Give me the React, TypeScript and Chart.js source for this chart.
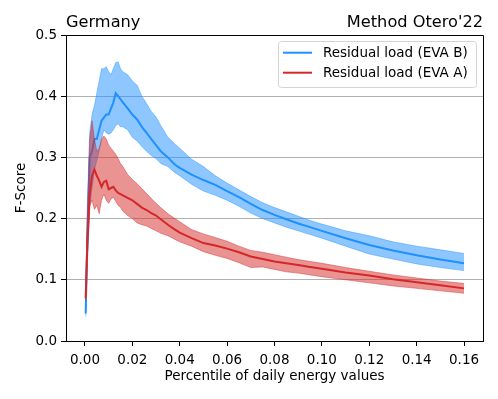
import React, { useEffect, useRef } from "react";
import { Chart, registerables } from "chart.js";

Chart.register(...registerables);

const xValues = [0.0003, 0.001, 0.002, 0.003, 0.004, 0.005, 0.006, 0.007, 0.008, 0.009, 0.010, 0.011, 0.012, 0.013, 0.014, 0.015, 0.016, 0.018, 0.020, 0.022, 0.024, 0.026, 0.028, 0.030, 0.032, 0.035, 0.038, 0.040, 0.045, 0.050, 0.055, 0.060, 0.065, 0.070, 0.075, 0.080, 0.085, 0.090, 0.095, 0.100, 0.110, 0.120, 0.130, 0.140, 0.150, 0.160];

const blueMean = [0.045, 0.17, 0.30, 0.31, 0.33, 0.33, 0.345, 0.36, 0.365, 0.37, 0.37, 0.38, 0.39, 0.405, 0.40, 0.395, 0.39, 0.38, 0.37, 0.362, 0.35, 0.34, 0.33, 0.32, 0.31, 0.30, 0.288, 0.283, 0.272, 0.263, 0.255, 0.245, 0.235, 0.224, 0.214, 0.206, 0.199, 0.192, 0.186, 0.18, 0.168, 0.157, 0.148, 0.140, 0.133, 0.127];
const blueUpper = [0.05, 0.22, 0.34, 0.37, 0.385, 0.405, 0.425, 0.445, 0.445, 0.448, 0.44, 0.435, 0.445, 0.455, 0.456, 0.445, 0.44, 0.435, 0.425, 0.418, 0.40, 0.388, 0.375, 0.366, 0.352, 0.333, 0.322, 0.315, 0.297, 0.285, 0.27, 0.258, 0.247, 0.236, 0.226, 0.218, 0.211, 0.204, 0.197, 0.191, 0.18, 0.172, 0.162, 0.155, 0.149, 0.143];
const blueLower = [0.04, 0.12, 0.22, 0.25, 0.28, 0.295, 0.31, 0.33, 0.345, 0.34, 0.338, 0.34, 0.345, 0.352, 0.355, 0.35, 0.35, 0.345, 0.333, 0.327, 0.318, 0.31, 0.303, 0.298, 0.29, 0.285, 0.275, 0.27, 0.256, 0.245, 0.238, 0.23, 0.22, 0.209, 0.2, 0.193, 0.186, 0.18, 0.174, 0.168, 0.155, 0.142, 0.134, 0.126, 0.12, 0.115];

const redMean = [0.07, 0.16, 0.24, 0.27, 0.28, 0.27, 0.262, 0.252, 0.26, 0.262, 0.248, 0.25, 0.252, 0.246, 0.242, 0.24, 0.238, 0.234, 0.23, 0.224, 0.218, 0.214, 0.209, 0.205, 0.199, 0.19, 0.182, 0.177, 0.168, 0.16, 0.156, 0.151, 0.145, 0.138, 0.134, 0.13, 0.127, 0.124, 0.121, 0.118, 0.112, 0.107, 0.101, 0.096, 0.091, 0.086];
const redUpper = [0.075, 0.2, 0.33, 0.36, 0.33, 0.31, 0.315, 0.33, 0.335, 0.33, 0.32, 0.315, 0.31, 0.305, 0.298, 0.29, 0.285, 0.272, 0.264, 0.257, 0.249, 0.241, 0.233, 0.225, 0.218, 0.208, 0.2, 0.195, 0.182, 0.175, 0.169, 0.163, 0.155, 0.148, 0.145, 0.141, 0.137, 0.133, 0.13, 0.127, 0.12, 0.114, 0.108, 0.103, 0.098, 0.094];
const redLower = [0.065, 0.13, 0.22, 0.23, 0.215, 0.222, 0.208, 0.23, 0.24, 0.23, 0.225, 0.232, 0.235, 0.228, 0.222, 0.218, 0.212, 0.205, 0.2, 0.193, 0.19, 0.188, 0.184, 0.18, 0.176, 0.172, 0.166, 0.162, 0.155, 0.146, 0.14, 0.135, 0.128, 0.12, 0.121, 0.117, 0.113, 0.111, 0.108, 0.105, 0.1, 0.095, 0.09, 0.086, 0.082, 0.078];

const xTicks = [0, 0.02, 0.04, 0.06, 0.08, 0.1, 0.12, 0.14, 0.16];
const yTicks = [0, 0.1, 0.2, 0.3, 0.4, 0.5];
const seriesLabels = ["Residual load (EVA B)", "Residual load (EVA A)"];
const leftTitle = "Germany";
const rightTitle = "Method Otero'22";
const xTitle = "Percentile of daily energy values";
const yTitle = "F-Score";

const BLUE = "rgb(30,144,255)";
const BLUE_FILL = "rgba(30,144,255,0.5)";
const BLUE_EDGE = "rgba(30,144,255,0.55)";
const RED = "rgb(214,39,40)";
const RED_FILL = "rgba(214,39,40,0.5)";
const RED_EDGE = "rgba(214,39,40,0.55)";
const FONT = "'DejaVu Sans', sans-serif";

const pts = (ys: number[]) => xValues.map((x, i) => ({ x, y: ys[i] }));

const decorPlugin = {
  id: "decor",
  afterDraw(chart: any) {
    const { ctx, chartArea } = chart;
    const { left, right, top, bottom } = chartArea;
    ctx.save();
    ctx.strokeStyle = "#000";
    ctx.lineWidth = 1;
    ctx.beginPath();
    ctx.moveTo(left, top + 0.5);
    ctx.lineTo(right + 0.5, top + 0.5);
    ctx.lineTo(right + 0.5, bottom);
    ctx.stroke();
    ctx.fillStyle = "#000";
    ctx.font = `16.2px ${FONT}`;
    ctx.textBaseline = "alphabetic";
    ctx.textAlign = "left";
    ctx.fillText(leftTitle, left, 27);
    ctx.textAlign = "right";
    ctx.fillText(rightTitle, right, 27);
    const bx = 278.5, by = 41.5, bw = 198, bh = 46, r = 3;
    ctx.beginPath();
    ctx.moveTo(bx + r, by);
    ctx.lineTo(bx + bw - r, by);
    ctx.quadraticCurveTo(bx + bw, by, bx + bw, by + r);
    ctx.lineTo(bx + bw, by + bh - r);
    ctx.quadraticCurveTo(bx + bw, by + bh, bx + bw - r, by + bh);
    ctx.lineTo(bx + r, by + bh);
    ctx.quadraticCurveTo(bx, by + bh, bx, by + bh - r);
    ctx.lineTo(bx, by + r);
    ctx.quadraticCurveTo(bx, by, bx + r, by);
    ctx.closePath();
    ctx.fillStyle = "rgba(255,255,255,0.8)";
    ctx.fill();
    ctx.strokeStyle = "#d4d4d4";
    ctx.lineWidth = 1;
    ctx.stroke();
    const colors = [BLUE, RED];
    seriesLabels.forEach((lab, i) => {
      const y = 52.7 + i * 20;
      ctx.strokeStyle = colors[i];
      ctx.lineWidth = 2;
      ctx.beginPath();
      ctx.moveTo(283, y);
      ctx.lineTo(312, y);
      ctx.stroke();
      ctx.fillStyle = "#000";
      ctx.font = `13.5px ${FONT}`;
      ctx.textAlign = "left";
      ctx.textBaseline = "middle";
      ctx.fillText(lab, 323, y + 0.5);
    });
    ctx.restore();
  },
};

export default function App() {
  const ref = useRef<HTMLCanvasElement>(null);
  useEffect(() => {
    document.body.style.margin = "0";
    const canvas = ref.current!;
    const chart = new Chart(canvas, {
      type: "line",
      data: {
        datasets: [
          { data: pts(redMean), borderColor: RED, borderWidth: 2, pointRadius: 0, fill: false, tension: 0 },
          { data: pts(redUpper), borderColor: RED_EDGE, borderWidth: 0.8, pointRadius: 0, fill: "+1", backgroundColor: RED_FILL, tension: 0 },
          { data: pts(redLower), borderColor: RED_EDGE, borderWidth: 0.8, pointRadius: 0, fill: false, tension: 0 },
          { data: pts(blueMean), borderColor: BLUE, borderWidth: 2, pointRadius: 0, fill: false, tension: 0 },
          { data: pts(blueUpper), borderColor: BLUE_EDGE, borderWidth: 0.8, pointRadius: 0, fill: "+1", backgroundColor: BLUE_FILL, tension: 0 },
          { data: pts(blueLower), borderColor: BLUE_EDGE, borderWidth: 0.8, pointRadius: 0, fill: false, tension: 0 },
        ],
      },
      options: {
        animation: false,
        responsive: false,
        devicePixelRatio: 1,
        layout: { padding: { top: 35, right: 15, left: 0, bottom: 0 } },
        plugins: { legend: { display: false }, tooltip: { enabled: false }, title: { display: false } },
        scales: {
          x: {
            type: "linear",
            min: -0.008,
            max: 0.168,
            afterFit: (s: any) => { s.height = 58; },
            afterBuildTicks: (s: any) => { s.ticks = xTicks.map((v) => ({ value: v })); },
            ticks: { color: "#000", font: { family: FONT, size: 13.5 }, padding: 6, maxRotation: 0, autoSkip: false, callback: (v: any) => Number(v).toFixed(2) },
            grid: { drawOnChartArea: false, drawTicks: true, tickLength: 5, tickColor: "#000", tickWidth: 1 },
            border: { display: true, color: "#000", width: 1 },
            title: { display: true, text: xTitle, color: "#000", font: { family: FONT, size: 13.5 }, padding: { top: 4, bottom: 14 } },
          },
          y: {
            type: "linear",
            min: 0,
            max: 0.5,
            afterFit: (s: any) => { s.width = 66; },
            afterBuildTicks: (s: any) => { s.ticks = yTicks.map((v) => ({ value: v })); },
            ticks: { color: "#000", font: { family: FONT, size: 13.5 }, padding: 4, autoSkip: false, callback: (v: any) => Number(v).toFixed(1) },
            grid: {
              drawOnChartArea: true,
              drawTicks: true,
              tickLength: 5,
              tickColor: "#000",
              color: (c: any) => (c.tick && (c.tick.value === 0 || c.tick.value === 0.5) ? "rgba(0,0,0,0)" : "#b0b0b0"),
              lineWidth: 1,
            },
            border: { display: true, color: "#000", width: 1 },
            title: { display: true, text: yTitle, color: "#000", font: { family: FONT, size: 13.5 }, padding: { top: 13, bottom: 4 } },
          },
        },
      },
      plugins: [decorPlugin],
    } as any);
    return () => chart.destroy();
  }, []);
  return (
    <div style={{ position: "absolute", left: 0, top: 0, width: 498, height: 399, background: "#fff" }}>
      <canvas ref={ref} width={498} height={399} style={{ display: "block", width: 498, height: 399 }} />
    </div>
  );
}
